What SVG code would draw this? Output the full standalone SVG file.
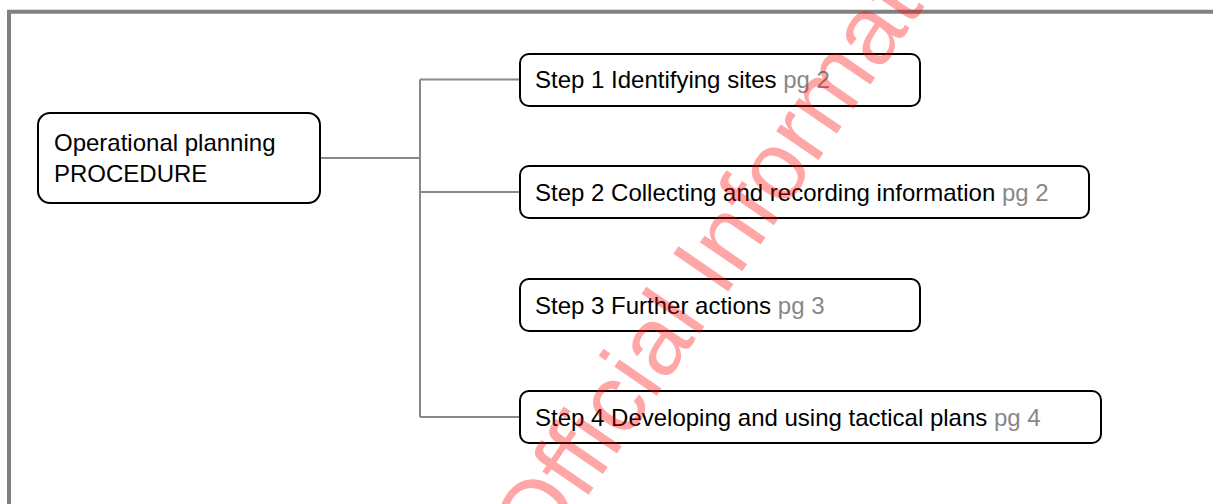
<svg xmlns="http://www.w3.org/2000/svg" width="1213" height="504" viewBox="0 0 1213 504">
<style>
.box{fill:#fff;stroke:#000;stroke-width:2}
.t{font-family:"Liberation Sans",Arial,sans-serif;font-size:24px;fill:#000}
.pg{fill:#888}
.c{stroke:#888;stroke-width:2;fill:none}
.frame{stroke:#808080;stroke-width:4;fill:none}
.wm{font-family:"Liberation Sans",Arial,sans-serif;font-size:97px;fill:#ff0000;fill-opacity:0.35}
</style>
<rect width="1213" height="504" fill="#fff"/>
<path class="frame" d="M9,504 V11.7 H1213"/>
<g id="connectors">
<path class="c" d="M321,158 H420"/>
<path class="c" d="M420,79.5 V417"/>
<path class="c" d="M420,79.5 H520"/>
<path class="c" d="M420,192 H520"/>
<path class="c" d="M420,417 H520"/>
</g>
<g id="root">
<rect class="box" x="38" y="113" width="282" height="90" rx="12"/>
<text class="t" x="54" y="150.5">Operational planning</text>
<text class="t" x="54" y="182">PROCEDURE</text>
</g>
<g id="step1">
<rect class="box" x="520" y="54" width="400" height="52" rx="9"/>
<text class="t" x="535" y="88">Step 1 Identifying sites <tspan class="pg">pg 2</tspan></text>
</g>
<g id="step2">
<rect class="box" x="520" y="166" width="569" height="52" rx="9"/>
<text class="t" x="535" y="200.5">Step 2 Collecting and recording information <tspan class="pg">pg 2</tspan></text>
</g>
<g id="step3">
<rect class="box" x="520" y="279" width="400" height="52" rx="9"/>
<text class="t" x="535" y="313.5">Step 3 Further actions <tspan class="pg">pg 3</tspan></text>
</g>
<g id="step4">
<rect class="box" x="520" y="391" width="581" height="52" rx="9"/>
<text class="t" x="535" y="426">Step 4 Developing and using tactical plans <tspan class="pg">pg 4</tspan></text>
</g>
<text class="wm" transform="translate(541,564) rotate(-55.5)">Official Information</text>
</svg>
